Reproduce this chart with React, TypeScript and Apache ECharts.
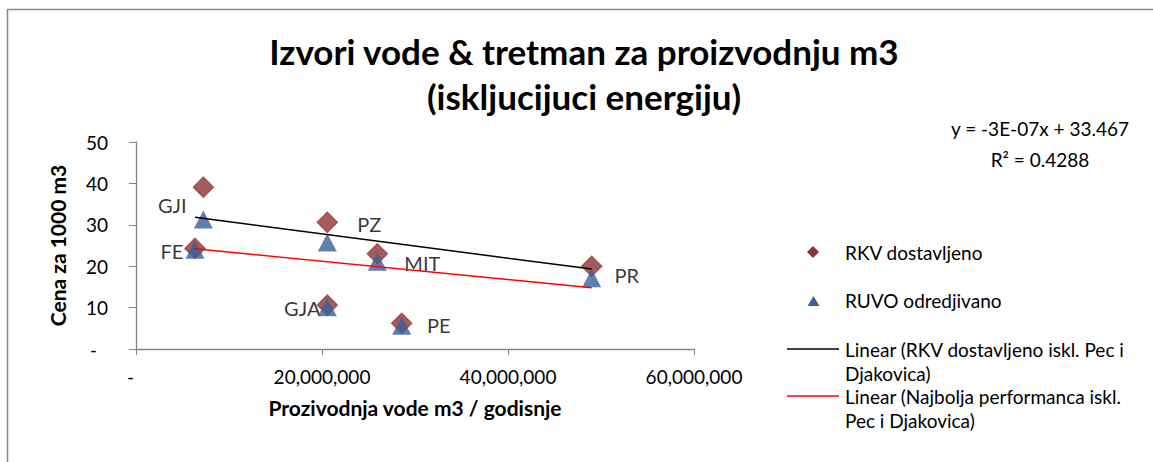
import React, { useEffect, useRef } from "react";
import * as echarts from "echarts";

// ---- data ----
const sites = ["GJI", "FE", "PZ", "MIT", "GJA", "PE", "PR"];
const production = [7.24e6, 6.34e6, 20.57e6, 25.95e6, 20.57e6, 28.57e6, 49.0e6];
const rkvDostavljeno = [39.1, 24.3, 30.6, 23.0, 10.6, 6.2, 20.0];
const ruvoOdredjivano = [31.3, 24.0, 25.7, 21.1, 10.1, 5.6, 17.1];
// trend lines (excluding Pec and Djakovica), endpoints
const trendRkvX = [6.34e6, 49.0e6];
const trendRkvY = [31.8, 19.3];
const trendBestX = [6.34e6, 49.0e6];
const trendBestY = [24.2, 14.8];
const yTicks = [0, 10, 20, 30, 40, 50];
const xTicks = [0, 20e6, 40e6, 60e6];

const titleText = "Izvori vode & tretman za proizvodnju m3\n(iskljucijuci energiju)";
const xName = "Prozivodnja vode m3 / godisnje";
const yName = "Cena za 1000 m3";
const equation = "y = -3E-07x + 33.467\nR² = 0.4288";
const legendNames = [
  "RKV dostavljeno",
  "RUVO odredjivano",
  "Linear (RKV dostavljeno iskl. Pec i\nDjakovica)",
  "Linear (Najbolja performanca iskl.\nPec i Djakovica)",
];

// ---- styling ----
const FONT = "Lato";
const labelOffsets: [number, number][] = [
  [-31, 18],
  [-23, 3],
  [42, 2],
  [45, 9],
  [-25, 3],
  [37, 2],
  [35, 9],
];
const RED_MARK = "#8A3634";
const RED_EDGE = "#9C4341";
const BLUE_MARK = "#376099";

export default function App() {
  const ref = useRef<HTMLDivElement>(null);
  useEffect(() => {
    document.body.style.margin = "0";
    const chart = echarts.init(ref.current!, undefined, { renderer: "svg" });
    const fmtX = (v: number) => (v === 0 ? "-\u2007" : v.toLocaleString("en-US"));
    const fmtY = (v: number) => (v === 0 ? "-\u2007" : String(v));
    const axisLine = { show: true, lineStyle: { color: "#868686", width: 1.3 } };
    const option: any = {
      animation: false,
      backgroundColor: "#ffffff",
      title: {
        text: titleText,
        left: 584,
        top: 28,
        padding: 0,
        textAlign: "center",
        textStyle: {
          fontFamily: FONT,
          fontWeight: "bold",
          fontSize: 35,
          lineHeight: 45,
          color: "#000",
        },
      },
      grid: { left: 136, top: 142, width: 558, height: 207 },
      xAxis: {
        type: "value",
        min: xTicks[0],
        max: xTicks[xTicks.length - 1],
        interval: xTicks[1] - xTicks[0],
        name: xName,
        nameLocation: "middle",
        nameGap: 48,
        nameTextStyle: { fontFamily: FONT, fontWeight: "bold", fontSize: 21, color: "#000" },
        axisLine,
        axisTick: { show: true, length: 6, lineStyle: { color: "#868686" } },
        axisLabel: { formatter: fmtX, fontFamily: FONT, fontSize: 19, color: "#000", margin: 18 },
        splitLine: { show: false },
      },
      yAxis: {
        type: "value",
        min: yTicks[0],
        max: yTicks[yTicks.length - 1],
        interval: yTicks[1] - yTicks[0],
        name: yName,
        nameLocation: "middle",
        nameGap: 68,
        nameTextStyle: { fontFamily: FONT, fontWeight: "bold", fontSize: 21, color: "#000" },
        axisLine,
        axisTick: { show: true, length: 7, lineStyle: { color: "#868686" } },
        axisLabel: { formatter: fmtY, fontFamily: FONT, fontSize: 19, color: "#000", margin: 28 },
        splitLine: { show: false },
      },
      series: [
        {
          name: legendNames[0],
          type: "scatter",
          symbol: "diamond",
          symbolSize: 20,
          itemStyle: { color: RED_MARK, borderColor: RED_EDGE, borderWidth: 1.5 },
          label: {
            show: true,
            position: "inside",
            formatter: "{b}",
            fontFamily: FONT,
            fontSize: 20,
            color: "#000",
          },
          data: sites.map((s, i) => ({
            name: s,
            value: [production[i], rkvDostavljeno[i]],
            label: { offset: labelOffsets[i] },
          })),
          z: 2,
        },
        {
          name: legendNames[1],
          type: "scatter",
          symbol: "triangle",
          symbolSize: [19, 18],
          itemStyle: { color: BLUE_MARK },
          data: sites.map((s, i) => ({ name: s, value: [production[i], ruvoOdredjivano[i]] })),
          z: 3,
        },
        {
          name: legendNames[2],
          type: "line",
          symbol: "none",
          lineStyle: { color: "#000", width: 1.5 },
          data: trendRkvX.map((x, i) => [x, trendRkvY[i]]),
          z: 4,
        },
        {
          name: legendNames[3],
          type: "line",
          symbol: "none",
          lineStyle: { color: "#FF0000", width: 1.5 },
          data: trendBestX.map((x, i) => [x, trendBestY[i]]),
          z: 4,
        },
      ],
      graphic: [
        {
          type: "rect",
          silent: true,
          shape: { x: 7.5, y: 9.5, width: 1200, height: 500 },
          style: { fill: "none", stroke: "#898989", lineWidth: 1.5 },
          z: -10,
        },
        {
          type: "text",
          x: 1040,
          y: 113,
          style: {
            text: equation,
            font: `19px ${FONT}`,
            textAlign: "center",
            textVerticalAlign: "top",
            lineHeight: 31,
            fill: "#000",
          },
        },
        {
          type: "polygon",
          shape: { points: [[813, 246], [819, 252], [813, 258], [807, 252]] },
          style: { fill: RED_MARK },
        },
        {
          type: "text",
          x: 845,
          y: 252,
          style: { text: legendNames[0], font: `19px ${FONT}`, textVerticalAlign: "middle", fill: "#000" },
        },
        {
          type: "polygon",
          shape: { points: [[813.5, 296], [819.5, 306], [807.5, 306]] },
          style: { fill: BLUE_MARK },
        },
        {
          type: "text",
          x: 845,
          y: 300,
          style: { text: legendNames[1], font: `19px ${FONT}`, textVerticalAlign: "middle", fill: "#000" },
        },
        {
          type: "line",
          shape: { x1: 787, y1: 349, x2: 839, y2: 349 },
          style: { stroke: "#000", lineWidth: 1.5 },
        },
        {
          type: "text",
          x: 845,
          y: 337,
          style: {
            text: legendNames[2],
            font: `19px ${FONT}`,
            textVerticalAlign: "top",
            lineHeight: 24,
            fill: "#000",
          },
        },
        {
          type: "line",
          shape: { x1: 787, y1: 396, x2: 839, y2: 396 },
          style: { stroke: "#FF0000", lineWidth: 1.5 },
        },
        {
          type: "text",
          x: 845,
          y: 384,
          style: {
            text: legendNames[3],
            font: `19px ${FONT}`,
            textVerticalAlign: "top",
            lineHeight: 24,
            fill: "#000",
          },
        },
      ],
    };
    chart.setOption(option);
    return () => chart.dispose();
  }, []);
  return <div ref={ref} style={{ width: 1153, height: 462 }} />;
}
